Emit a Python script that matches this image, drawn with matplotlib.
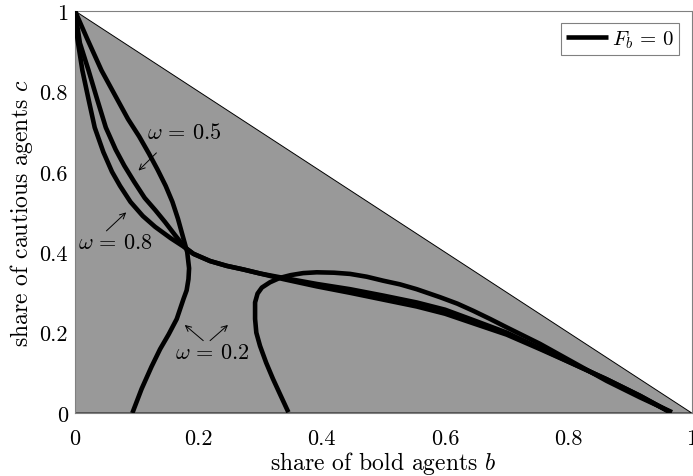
import numpy as np
import matplotlib.pyplot as plt

plt.rcParams['font.family'] = 'cmr10'
plt.rcParams['mathtext.fontset'] = 'cm'
plt.rcParams['axes.formatter.use_mathtext'] = True

# omega = 0.2, left branch (from the top corner down to c = 0)
b_02_left = [0.000, 0.020, 0.043, 0.065, 0.086, 0.104, 0.120, 0.134, 0.147, 0.158,
             0.167, 0.176, 0.182, 0.185, 0.184, 0.181, 0.176, 0.165, 0.152, 0.138,
             0.124, 0.108, 0.093]
c_02_left = [1.000, 0.930, 0.852, 0.790, 0.731, 0.688, 0.645, 0.605, 0.565, 0.525,
             0.483, 0.433, 0.400, 0.360, 0.333, 0.305, 0.284, 0.234, 0.196, 0.159,
             0.115, 0.060, 0.000]

# omega = 0.2, right branch
b_02_right = [0.346, 0.333, 0.321, 0.310, 0.300, 0.294, 0.292, 0.292, 0.296, 0.303,
              0.316, 0.332, 0.350, 0.370, 0.392, 0.420, 0.446, 0.473, 0.500, 0.527,
              0.554, 0.592, 0.620, 0.646, 0.673, 0.700, 0.754, 0.808, 0.862, 0.916,
              0.968]
c_02_right = [0.002, 0.045, 0.085, 0.125, 0.167, 0.200, 0.234, 0.275, 0.297, 0.312,
              0.325, 0.336, 0.343, 0.348, 0.350, 0.349, 0.346, 0.339, 0.329, 0.320,
              0.308, 0.288, 0.272, 0.254, 0.234, 0.213, 0.172, 0.126, 0.080, 0.039,
              0.002]

# omega = 0.5
b_05 = [0.000, 0.008, 0.022, 0.036, 0.050, 0.066, 0.080, 0.096, 0.113, 0.130,
        0.146, 0.162, 0.178, 0.192, 0.219, 0.246, 0.273, 0.300, 0.338, 0.392,
        0.446, 0.500, 0.554, 0.600, 0.646, 0.700, 0.754, 0.808, 0.862, 0.916,
        0.965]
c_05 = [1.000, 0.920, 0.852, 0.780, 0.710, 0.655, 0.615, 0.575, 0.535, 0.505,
        0.475, 0.443, 0.412, 0.396, 0.378, 0.366, 0.357, 0.347, 0.336, 0.321,
        0.308, 0.292, 0.275, 0.257, 0.231, 0.200, 0.161, 0.122, 0.084, 0.043,
        0.002]

# omega = 0.8
b_08 = [0.000, 0.004, 0.012, 0.022, 0.032, 0.046, 0.060, 0.073, 0.090, 0.110,
        0.130, 0.155, 0.178, 0.192, 0.219, 0.246, 0.273, 0.300, 0.338, 0.392,
        0.446, 0.500, 0.554, 0.600, 0.646, 0.700, 0.754, 0.808, 0.862, 0.916,
        0.965]
c_08 = [1.000, 0.930, 0.852, 0.780, 0.710, 0.649, 0.600, 0.565, 0.525, 0.490,
        0.463, 0.435, 0.412, 0.396, 0.378, 0.366, 0.357, 0.347, 0.333, 0.315,
        0.299, 0.282, 0.265, 0.247, 0.223, 0.195, 0.159, 0.122, 0.084, 0.043,
        0.002]

ticks = [0, 0.2, 0.4, 0.6, 0.8, 1]
tick_labels = ['0', '0.2', '0.4', '0.6', '0.8', '1']

fig = plt.figure(figsize=(6.93, 4.77), dpi=100)
ax = fig.add_axes([0.1082, 0.132, 0.890, 0.843])

# feasible region b + c <= 1
ax.fill([0, 1, 0], [1, 0, 0], facecolor='#999999', edgecolor='black', linewidth=0.7, zorder=1)

lw = 3.3
style = dict(color='black', lw=lw, zorder=3, solid_joinstyle='round', solid_capstyle='butt')
ax.plot(b_02_left, c_02_left, label=r'$F_b\,=\,0$', **style)
ax.plot(b_02_right, c_02_right, **style)
ax.plot(b_05, c_05, **style)
ax.plot(b_08, c_08, **style)

arrow = dict(arrowstyle='->', color='black', lw=0.7, shrinkA=0, shrinkB=0)
fs = 16
ax.text(0.177, 0.70, r'$\omega\,=\,0.5$', fontsize=fs, ha='center', va='center')
ax.annotate('', xy=(0.103, 0.603), xytext=(0.132, 0.647), arrowprops=arrow)
ax.text(0.065, 0.425, r'$\omega\,=\,0.8$', fontsize=fs, ha='center', va='center')
ax.annotate('', xy=(0.083, 0.499), xytext=(0.051, 0.453), arrowprops=arrow)
ax.text(0.222, 0.152, r'$\omega\,=\,0.2$', fontsize=fs, ha='center', va='center')
ax.annotate('', xy=(0.178, 0.219), xytext=(0.208, 0.180), arrowprops=arrow)
ax.annotate('', xy=(0.248, 0.219), xytext=(0.219, 0.180), arrowprops=arrow)

ax.set_xlim(0, 1)
ax.set_ylim(0, 1)
ax.set_xticks(ticks)
ax.set_xticklabels(tick_labels)
ax.set_yticks(ticks)
ax.set_yticklabels(tick_labels)
ax.tick_params(labelsize=16, length=0)
ax.tick_params(axis='x', pad=11)
ax.tick_params(axis='y', pad=5)
for s in ax.spines.values():
    s.set_color('#808080')
    s.set_linewidth(0.8)

ax.set_xlabel(r'share of bold agents $b$', fontsize=17, labelpad=1)
ax.set_ylabel(r'share of cautious agents $c$', fontsize=17, labelpad=3)

leg = ax.legend(loc='upper right', fontsize=15, fancybox=False, framealpha=1,
                handlelength=2.0, handletextpad=0.2, borderpad=0.25,
                borderaxespad=0.6)
leg.get_frame().set_edgecolor('#808080')
leg.get_frame().set_linewidth(0.8)

fig.savefig('out.png', dpi=100)
